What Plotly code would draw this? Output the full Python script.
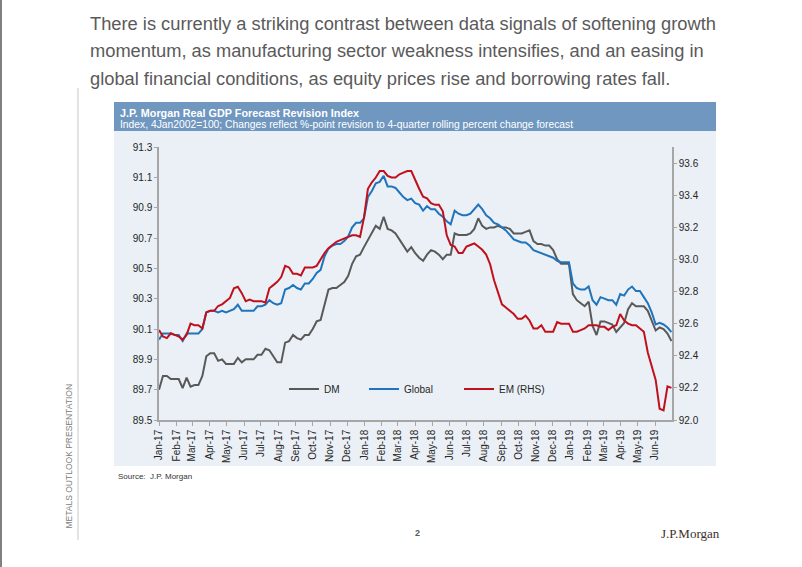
import plotly.graph_objects as go
import pandas as pd

# ---------------- data ----------------
week_start = "2017-01-01"
n_weeks = 131
dates = pd.date_range(week_start, periods=n_weeks, freq="7D")

dm = [89.70, 89.79, 89.79, 89.77, 89.77, 89.77, 89.71, 89.78, 89.72, 89.73,
      89.73, 89.79, 89.92, 89.94, 89.94, 89.89, 89.90, 89.87, 89.87, 89.87,
      89.91, 89.88, 89.90, 89.90, 89.90, 89.93, 89.93, 89.97, 89.96, 89.92,
      89.88, 89.88, 90.01, 90.02, 90.06, 90.04, 90.03, 90.06, 90.06, 90.10,
      90.15, 90.16, 90.27, 90.36, 90.37, 90.37, 90.39, 90.41, 90.45, 90.53,
      90.58, 90.59, 90.64, 90.69, 90.74, 90.78, 90.76, 90.84, 90.76, 90.75,
      90.73, 90.69, 90.65, 90.61, 90.64, 90.60, 90.57, 90.55, 90.59, 90.62,
      90.61, 90.59, 90.56, 90.59, 90.59, 90.73, 90.72, 90.72, 90.72, 90.73,
      90.76, 90.83, 90.78, 90.76, 90.77, 90.77, 90.78, 90.77, 90.77, 90.76,
      90.73, 90.73, 90.73, 90.74, 90.75, 90.68, 90.66, 90.66, 90.65, 90.65,
      90.62, 90.56, 90.53, 90.53, 90.53, 90.33, 90.29, 90.27, 90.25, 90.28,
      90.12, 90.06, 90.15, 90.15, 90.14, 90.13, 90.08, 90.11, 90.14, 90.23,
      90.27, 90.25, 90.25, 90.25, 90.22, 90.15, 90.09, 90.11, 90.10, 90.07,
      90.02]

global_idx = [90.03, 90.07, 90.07, 90.07, 90.06, 90.06, 90.02, 90.07, 90.07, 90.07,
              90.07, 90.10, 90.21, 90.22, 90.22, 90.21, 90.22, 90.21, 90.22, 90.23,
              90.26, 90.22, 90.22, 90.22, 90.22, 90.25, 90.25, 90.26, 90.29, 90.27,
              90.26, 90.27, 90.36, 90.37, 90.39, 90.37, 90.36, 90.40, 90.40, 90.43,
              90.47, 90.49, 90.58, 90.63, 90.65, 90.66, 90.66, 90.68, 90.71, 90.77,
              90.80, 90.80, 90.83, 90.97, 91.01, 91.06, 91.07, 91.11, 91.04, 91.04,
              91.03, 91.00, 90.97, 90.95, 90.96, 90.93, 90.92, 90.88, 90.91, 90.89,
              90.89, 90.86, 90.84, 90.81, 90.79, 90.88, 90.86, 90.85, 90.85, 90.86,
              90.89, 90.92, 90.89, 90.85, 90.83, 90.80, 90.79, 90.77, 90.75, 90.72,
              90.69, 90.68, 90.67, 90.67, 90.65, 90.62, 90.61, 90.60, 90.59, 90.58,
              90.57, 90.55, 90.54, 90.54, 90.54, 90.40, 90.37, 90.36, 90.36, 90.38,
              90.29, 90.26, 90.31, 90.30, 90.29, 90.29, 90.26, 90.33, 90.32, 90.36,
              90.38, 90.35, 90.35, 90.31, 90.27, 90.21, 90.13, 90.14, 90.13, 90.11,
              90.08]

em = [92.56, 92.52, 92.51, 92.54, 92.53, 92.52, 92.50, 92.53, 92.60, 92.59,
      92.59, 92.57, 92.67, 92.68, 92.68, 92.71, 92.72, 92.74, 92.76, 92.82,
      92.83, 92.79, 92.74, 92.75, 92.74, 92.74, 92.74, 92.73, 92.82, 92.84,
      92.86, 92.89, 92.96, 92.95, 92.91, 92.91, 92.90, 92.95, 92.95, 92.95,
      92.96, 93.00, 93.04, 93.07, 93.09, 93.11, 93.12, 93.13, 93.14, 93.15,
      93.15, 93.14, 93.26, 93.44, 93.48, 93.51, 93.55, 93.55, 93.52, 93.51,
      93.51, 93.53, 93.54, 93.55, 93.55, 93.49, 93.44, 93.39, 93.38, 93.35,
      93.34, 93.34, 93.30, 93.15, 93.09, 93.08, 93.04, 93.04, 93.08, 93.09,
      93.10, 93.08, 93.06, 93.03, 92.97, 92.87, 92.80, 92.72, 92.70, 92.68,
      92.66, 92.63, 92.63, 92.65, 92.62, 92.57, 92.57, 92.59, 92.55, 92.55,
      92.55, 92.61, 92.60, 92.60, 92.60, 92.55, 92.55, 92.56, 92.57, 92.59,
      92.59, 92.59, 92.58, 92.58, 92.56, 92.58, 92.59, 92.66, 92.62, 92.60,
      92.59, 92.59, 92.57, 92.55, 92.42, 92.33, 92.25, 92.07, 92.06, 92.21,
      92.20]

month_labels = ["Jan-17", "Feb-17", "Mar-17", "Apr-17", "May-17", "Jun-17",
                "Jul-17", "Aug-17", "Sep-17", "Oct-17", "Nov-17", "Dec-17",
                "Jan-18", "Feb-18", "Mar-18", "Apr-18", "May-18", "Jun-18",
                "Jul-18", "Aug-18", "Sep-18", "Oct-18", "Nov-18", "Dec-18",
                "Jan-19", "Feb-19", "Mar-19", "Apr-19", "May-19", "Jun-19"]
month_ticks = pd.date_range("2017-01-01", periods=len(month_labels), freq="MS")

left_ticks = [89.5, 89.7, 89.9, 90.1, 90.3, 90.5, 90.7, 90.9, 91.1, 91.3]
right_ticks = [92.0, 92.2, 92.4, 92.6, 92.8, 93.0, 93.2, 93.4, 93.6]

series_names = ["DM", "Global", "EM (RHS)"]

heading_lines = [
    "There is currently a striking contrast between data signals of softening growth",
    "momentum, as manufacturing sector weakness intensifies, and an easing in",
    "global financial conditions, as equity prices rise and borrowing rates fall.",
]
chart_title = "J.P. Morgan Real GDP Forecast Revision Index"
chart_subtitle = ("Index, 4Jan2002=100; Changes reflect %-point revision to "
                  "4-quarter rolling percent change forecast")

# ---------------- layout helpers ----------------
W, H = 802, 567
PL, PR, PT, PB = 159, 672, 147, 420


def X(px):
    return (px - PL) / (PR - PL)


def Y(py):
    return (PB - py) / (PB - PT)


FONT = "Liberation Sans, Arial, sans-serif"
AX = "#A6A6A6"
TXT = "#262626"

fig = go.Figure()
fig.add_trace(go.Scatter(x=dates, y=dm, name=series_names[0], mode="lines",
                         line=dict(color="#595959", width=2), legend="legend",
                         showlegend=True))
fig.add_trace(go.Scatter(x=dates, y=global_idx, name=series_names[1], mode="lines",
                         line=dict(color="#1F74BD", width=2), legend="legend2",
                         showlegend=True))
fig.add_trace(go.Scatter(x=dates, y=em, name=series_names[2], mode="lines",
                         line=dict(color="#C0101C", width=2), yaxis="y2",
                         legend="legend3", showlegend=True))

leg_common = dict(orientation="h", yanchor="middle", xanchor="left",
                  bgcolor="rgba(0,0,0,0)", font=dict(family=FONT, size=10, color=TXT),
                  y=Y(389), visible=True)

fig.update_layout(
    width=W, height=H, autosize=False, showlegend=True,
    margin=dict(l=PL, r=W - PR, t=PT, b=H - PB, pad=0),
    paper_bgcolor="white", plot_bgcolor="rgba(0,0,0,0)",
    font=dict(family=FONT, color=TXT),
    legend=dict(x=X(324 - 40), **leg_common),
    legend2=dict(x=X(404 - 40), **leg_common),
    legend3=dict(x=X(499 - 40), **leg_common),
    xaxis=dict(type="date", range=["2017-01-01", "2019-07-01"],
               tickvals=month_ticks, ticktext=month_labels, tickangle=-90,
               ticks="outside", ticklen=4, tickcolor=AX, tickwidth=1,
               showline=True, linecolor=AX, linewidth=1.5,
               showgrid=False, zeroline=False,
               tickfont=dict(family=FONT, size=10, color=TXT)),
    yaxis=dict(range=[89.5, 91.3], tickvals=left_ticks, tickformat=".1f",
               ticks="outside", ticklen=3, tickcolor=AX,
               showline=True, linecolor=AX, linewidth=1.5,
               showgrid=False, zeroline=False,
               tickfont=dict(family=FONT, size=10, color=TXT)),
    yaxis2=dict(range=[92.0, 93.7], tickvals=right_ticks, tickformat=".1f",
                overlaying="y", side="right",
                ticks="outside", ticklen=3, tickcolor=AX,
                showline=True, linecolor=AX, linewidth=1.5,
                showgrid=False, zeroline=False,
                tickfont=dict(family=FONT, size=10, color=TXT)),
)

shapes = [
    # chart panel background
    dict(type="rect", xref="paper", yref="paper", x0=X(114), x1=X(716),
         y0=Y(466), y1=Y(131), fillcolor="#EAF0F5", line=dict(width=0), layer="below"),
    # header band
    dict(type="rect", xref="paper", yref="paper", x0=X(114), x1=X(716),
         y0=Y(131), y1=Y(102), fillcolor="#7097BF", line=dict(width=0), layer="below"),
    # left vertical rule
    dict(type="line", xref="paper", yref="paper", x0=X(78), x1=X(78),
         y0=Y(88), y1=Y(540), line=dict(color="#C8C8C8", width=1)),
    # page left border
    dict(type="line", xref="paper", yref="paper", x0=X(1), x1=X(1),
         y0=Y(0), y1=Y(567), line=dict(color="#808080", width=2)),
]
fig.update_layout(shapes=shapes)

ann = []
for i, line in enumerate(heading_lines):
    ann.append(dict(text=line, x=X(88), y=Y(23 + 27.5 * i), xref="paper", yref="paper",
                    xanchor="left", yanchor="middle", showarrow=False,
                    font=dict(family=FONT, size=18.3, color="#5A5A5A")))
ann += [
    dict(text="<b>" + chart_title + "</b>", x=X(118), y=Y(112.5), xref="paper", yref="paper",
         xanchor="left", yanchor="middle", showarrow=False,
         font=dict(family=FONT, size=10.8, color="white")),
    dict(text=chart_subtitle, x=X(118), y=Y(124.5), xref="paper", yref="paper",
         xanchor="left", yanchor="middle", showarrow=False,
         font=dict(family=FONT, size=10.3, color="white")),
    dict(text="Source:  J.P. Morgan", x=X(116), y=Y(476), xref="paper", yref="paper",
         xanchor="left", yanchor="middle", showarrow=False,
         font=dict(family=FONT, size=8, color="#333333")),
    dict(text="METALS OUTLOOK PRESENTATION", x=X(68.5), y=Y(456), xref="paper", yref="paper",
         xanchor="center", yanchor="middle", textangle=-90, showarrow=False,
         font=dict(family=FONT, size=8.5, color="#808080")),
    dict(text="<b>2</b>", x=X(417.5), y=Y(533), xref="paper", yref="paper",
         xanchor="center", yanchor="middle", showarrow=False,
         font=dict(family=FONT, size=9, color="#595959")),
    dict(text="J.P.Morgan", x=X(690.5), y=Y(533), xref="paper", yref="paper",
         xanchor="center", yanchor="middle", showarrow=False,
         font=dict(family="Liberation Serif, DejaVu Serif, serif", size=13, color="#3B302C")),
]
fig.update_layout(annotations=ann)

# remove the browser's default 8px body margin so the figure sits at the page origin
fig.write_html("out.html", config={"displayModeBar": False},
               post_script="document.body.style.margin='0';")
